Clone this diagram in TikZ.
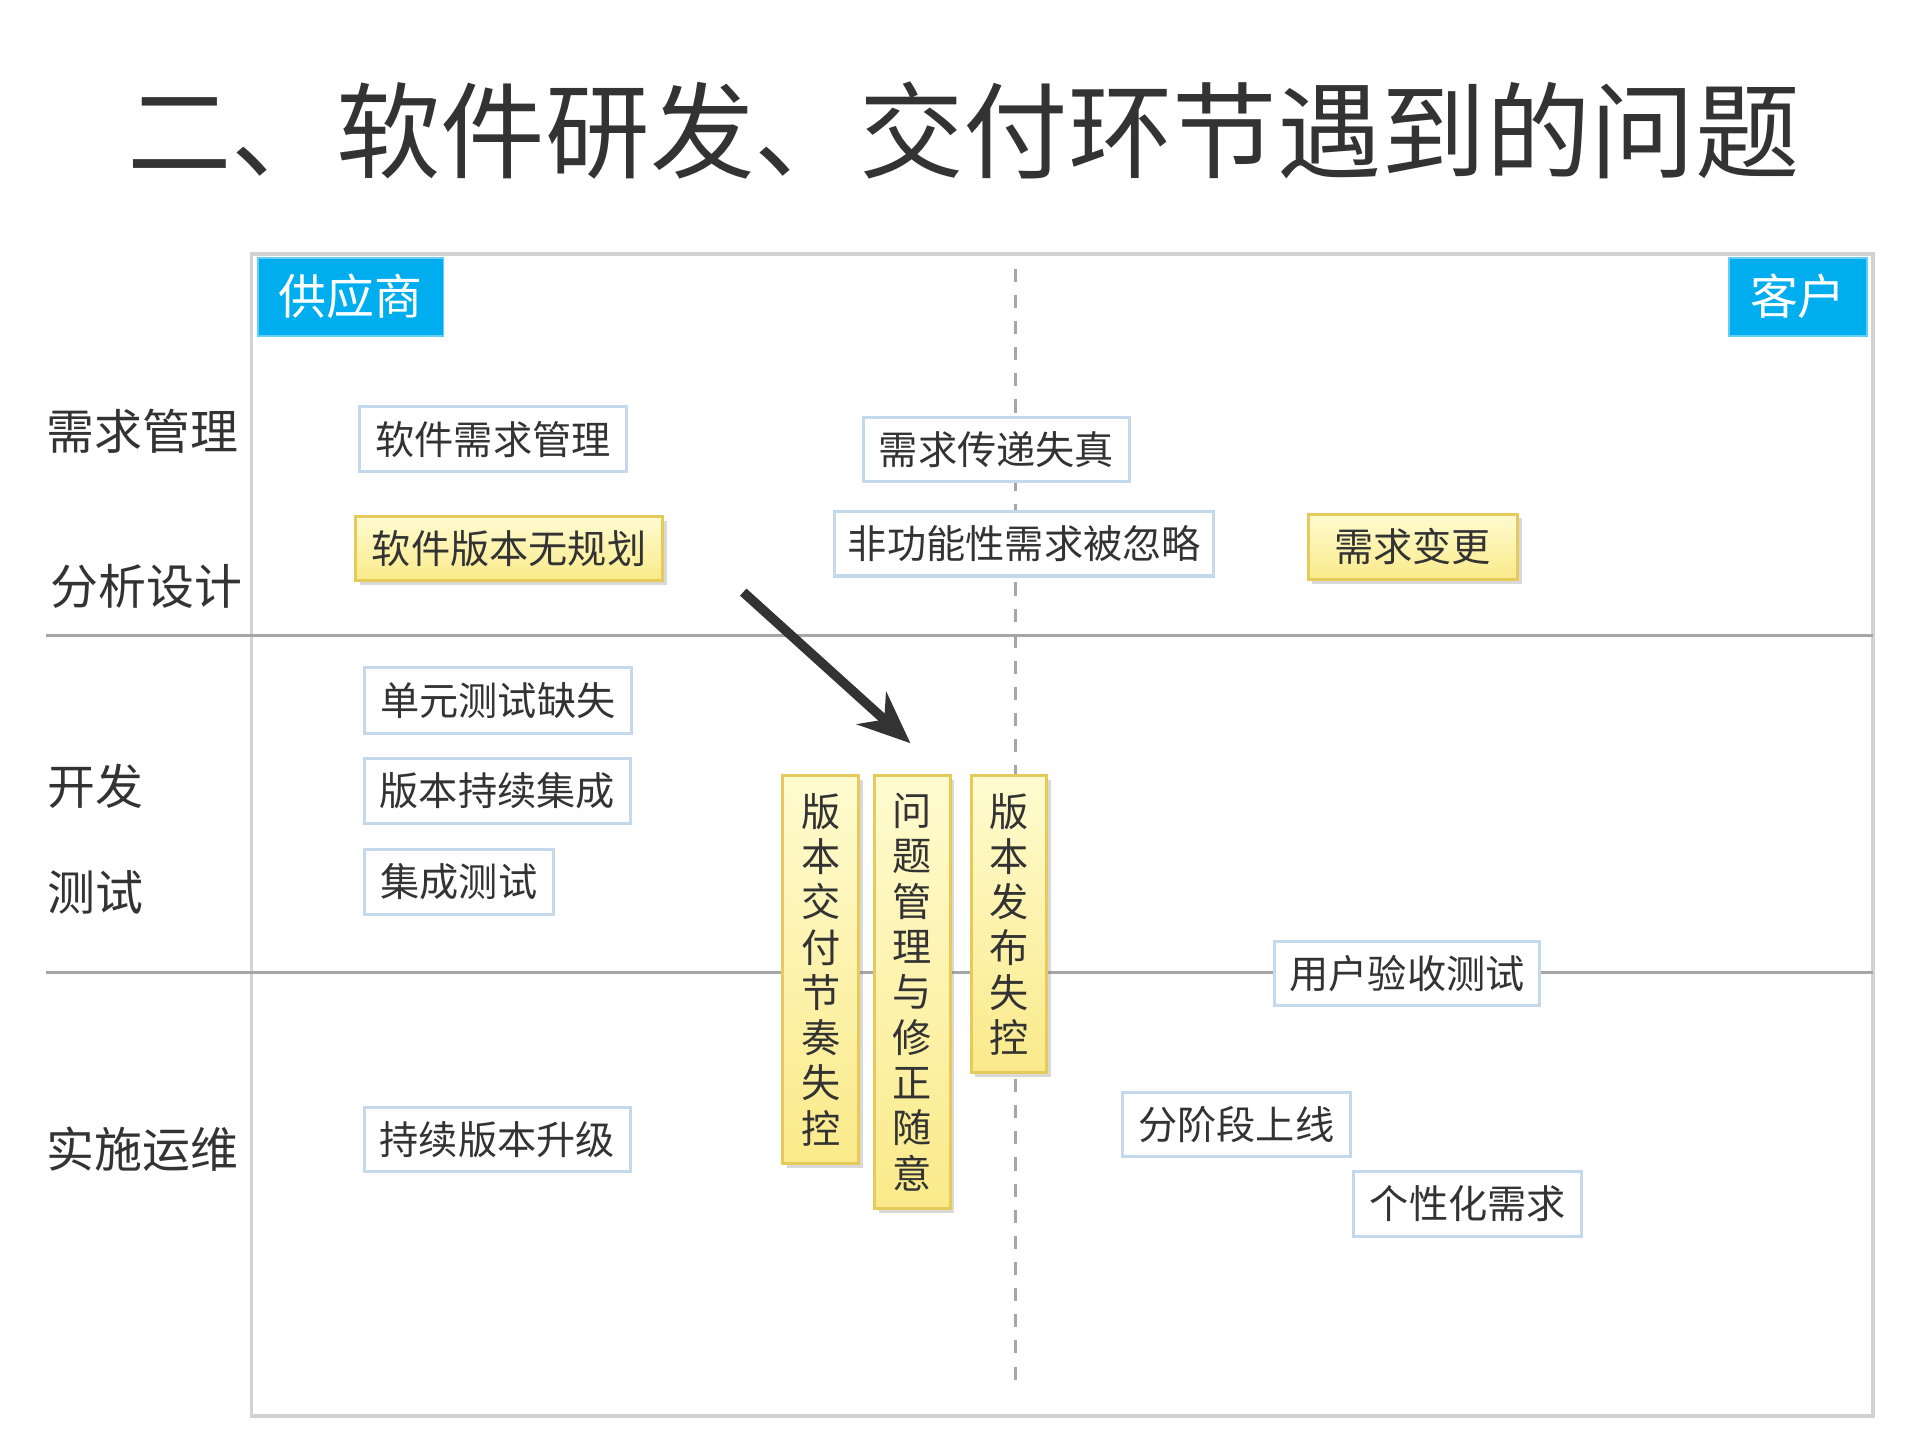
\documentclass[tikz,border=0pt]{standalone}
\usepackage{fontspec}
\newfontfamily\cjk{Noto Sans CJK SC}
\usetikzlibrary{arrows.meta,shadows}
\definecolor{txt}{HTML}{333333}
\definecolor{bbord}{HTML}{C5D9EE}
\definecolor{ybord}{HTML}{E6CB5A}
\definecolor{ytop}{HTML}{FFFBD0}
\definecolor{ybot}{HTML}{FAEA8A}
\definecolor{sky}{HTML}{00AEEF}
\tikzset{
 box/.style={draw=bbord,line width=0.7pt,fill=white,text=txt,font=\cjk\light\fontsize{9}{11}\selectfont,inner sep=0pt},
 ybox/.style={draw=ybord,line width=0.7pt,top color=ytop,bottom color=ybot,text=txt,font=\cjk\fontsize{9}{11}\selectfont,inner sep=0pt,drop shadow={shadow xshift=1pt,shadow yshift=-1pt,opacity=0.3}},
 vbox/.style={ybox,align=center,font=\cjk\fontsize{9}{10.4}\selectfont,anchor=north,inner ysep=4pt},
 lab/.style={text=txt,font=\cjk\fontsize{11}{13}\selectfont,anchor=west,inner sep=0pt},
 tag/.style={fill=sky,text=white,font=\cjk\fontsize{11}{13}\selectfont,inner sep=0pt,draw=sky!60}
}
\newcommand{\light}{}
\newcommand{\bx}[7]{\node[#1,minimum width={(#4-#2)*0.01cm},minimum height={(#5-#3)*0.01cm}] (#6) at ({(#2+#4)/2},{(#3+#5)/2}) {#7}}
\begin{document}
\begin{tikzpicture}[x=0.01cm,y=-0.01cm]
\useasboundingbox (0,0) rectangle (1550,1162.5);
\node[text=txt,font=\cjk\fontsize{24}{28}\selectfont,inner sep=0pt] (title) at (778,105) {二、软件研发、交付环节遇到的问题};
\draw[gray!35,line width=0.8pt] (203,205) rectangle (1512,1143);
\coordinate (h1a) at (37,513); \coordinate (h1b) at (1512,513);
\coordinate (h2a) at (37,785); \coordinate (h2b) at (1512,785);
\draw[gray!70,line width=0.8pt] (h1a) -- (h1b);
\draw[gray!70,line width=0.8pt] (h2a) -- (h2b);
\coordinate (va) at (820,217); \coordinate (vb) at (820,1115);
\draw[gray!70,dashed,line width=0.6pt] (va) -- (vb);
\bx{tag}{208}{208}{358}{271}{sup}{供应商};
\bx{tag}{1396}{208}{1507}{271}{cus}{客户};
\node[lab] (l1) at (37,348) {需求管理};
\node[lab] (l2) at (40,473) {分析设计};
\node[lab] (l3) at (38,635) {开发};
\node[lab] (l4) at (38,720) {测试};
\node[lab] (l5) at (37,928) {实施运维};
\bx{box}{290}{328}{506}{381}{b1}{软件需求管理};
\bx{box}{697}{337}{912}{389}{b2}{需求传递失真};
\bx{box}{674}{413}{980}{465}{b3}{非功能性需求被忽略};
\bx{box}{294}{539}{510}{592}{b4}{单元测试缺失};
\bx{box}{294}{612}{509}{665}{b5}{版本持续集成};
\bx{box}{294}{686}{447}{738}{b6}{集成测试};
\bx{box}{1029}{760}{1243}{812}{b7}{用户验收测试};
\bx{box}{906}{882}{1090}{934}{b8}{分阶段上线};
\bx{box}{1093}{946}{1277}{998}{b9}{个性化需求};
\bx{box}{294}{894}{509}{946}{b10}{持续版本升级};
\bx{ybox}{287}{417}{535}{469}{y1}{软件版本无规划};
\bx{ybox}{1056}{415}{1225}{468}{y2}{需求变更};
\node[vbox,minimum width=0.61cm,minimum height=3.11cm] (v1) at (662.5,625) {版\\本\\交\\付\\节\\奏\\失\\控};
\node[vbox,minimum width=0.61cm,minimum height=3.48cm] (v2) at (736.5,625) {问\\题\\管\\理\\与\\修\\正\\随\\意};
\node[vbox,minimum width=0.61cm,minimum height=2.37cm] (v3) at (814.5,625) {版\\本\\发\\布\\失\\控};
\coordinate (as) at (600,478); \coordinate (ae) at (735,600);
\draw[-{Stealth[length=12pt,width=10pt]},line width=2.2pt,txt] (as) -- (ae);
\end{tikzpicture}
\end{document}
